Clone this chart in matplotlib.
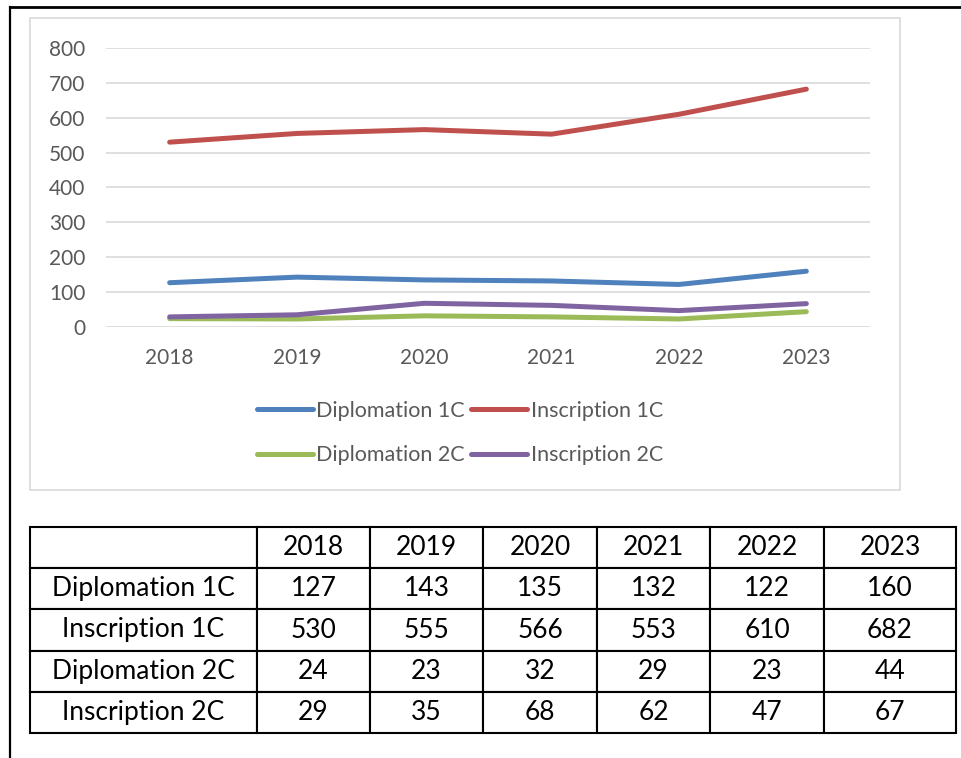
import numpy as np
import matplotlib
matplotlib.use('Agg')
import matplotlib.pyplot as plt
from matplotlib.patches import Rectangle
from matplotlib.lines import Line2D

years = ['2018', '2019', '2020', '2021', '2022', '2023']
series_names = ['Diplomation 1C', 'Inscription 1C', 'Diplomation 2C', 'Inscription 2C']
diplomation_1c = [127, 143, 135, 132, 122, 160]
inscription_1c = [530, 555, 566, 553, 610, 682]
diplomation_2c = [24, 23, 32, 29, 23, 44]
inscription_2c = [29, 35, 68, 62, 47, 67]
colors = ['#4F81BD', '#C0504D', '#9BBB59', '#8064A2']

plt.rcParams['font.family'] = ['Lato', 'DejaVu Sans']

W, H = 961.0, 758.0
fig = plt.figure(figsize=(W / 100, H / 100), dpi=100)

def px_rect(x0, y0, x1, y1):
	# pixel box (top-left origin) -> figure fraction [left, bottom, width, height]
	return [x0 / W, 1 - y1 / H, (x1 - x0) / W, (y1 - y0) / H]

# outer page border (left and top only visible)
fig.add_artist(Line2D([9.5 / W, 9.5 / W], [0, 1 - 7 / H], color='black', lw=1.6, transform=fig.transFigure))
fig.add_artist(Line2D([9.5 / W, 1], [1 - 7 / H, 1 - 7 / H], color='black', lw=2.0, transform=fig.transFigure))

# chart frame
l, b, w, h = px_rect(30, 18, 900, 490)
fig.add_artist(Rectangle((l, b), w, h, transform=fig.transFigure, fill=False,
	edgecolor='#D9D9D9', lw=1.2))

ax = fig.add_axes(px_rect(106, 48, 870, 327))
data = [diplomation_1c, inscription_1c, diplomation_2c, inscription_2c]
pos = np.arange(len(years))
handles = []
for name, vals, c in zip(series_names, data, colors):
	ln, = ax.plot(pos, vals, color=c, lw=3.6, solid_capstyle='round', solid_joinstyle='round', label=name, zorder=3)
	handles.append(ln)

ax.set_xlim(-0.5, len(years) - 0.5)
ax.set_ylim(0, 800)
ax.set_yticks(np.arange(0, 801, 100))
ax.set_xticks(pos)
ax.set_xticklabels(years)
ax.grid(True, axis='y', color='#D9D9D9', lw=1.2)
ax.set_axisbelow(True)
for s in ax.spines.values():
	s.set_visible(False)
ax.tick_params(length=0, labelsize=15, labelcolor='#595959')
ax.tick_params(axis='x', pad=15)
ax.tick_params(axis='y', pad=15)

# legend fills column-wise, so reorder to get the row layout
order = [0, 2, 1, 3]
leg = fig.legend([handles[i] for i in order], [series_names[i] for i in order],
	loc='center', bbox_to_anchor=(460 / W, 1 - 433 / H),
	ncol=2, frameon=False, fontsize=15.5, handlelength=2.6, handletextpad=0.15,
	columnspacing=0.3, labelspacing=1.12)
for t in leg.get_texts():
	t.set_color('#595959')

# data table
tax = fig.add_axes(px_rect(30, 527, 956, 733))
tax.axis('off')
cell_text = [[str(v) for v in vals] for vals in data]
col_w = [227, 113, 113, 114, 113, 114, 132]
col_w = [c / sum(col_w) for c in col_w]
rows = [[''] + years] + [[n] + ct for n, ct in zip(series_names, cell_text)]
tbl = tax.table(cellText=rows, colWidths=col_w, bbox=[0, 0, 1, 1], cellLoc='center')
tbl.auto_set_font_size(False)
for (r, c), cell in tbl.get_celld().items():
	cell.set_linewidth(1.5)
	cell.set_edgecolor('black')
	cell.get_text().set_fontsize(19)
	cell.get_text().set_color('black')

fig.savefig('out.png', dpi=100)
